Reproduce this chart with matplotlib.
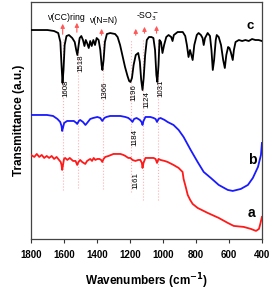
import matplotlib
matplotlib.use("Agg")
import matplotlib.pyplot as plt

plt.rcParams['font.family'] = ['Liberation Sans', 'DejaVu Sans']

# ---- data ----
wn_c = [1800, 1700, 1660, 1635, 1622, 1615, 1609, 1603, 1596, 1585, 1570, 1550, 1535, 1526, 1519,
        1512, 1505, 1495, 1485, 1476, 1468, 1460, 1450, 1441, 1432, 1422, 1412, 1402, 1390, 1380,
        1372, 1367, 1360, 1352, 1340, 1320, 1290, 1275, 1260, 1245, 1230, 1215, 1205, 1197, 1188,
        1178, 1165, 1150, 1140, 1132, 1124, 1117, 1108, 1098, 1085, 1070, 1058, 1048, 1040, 1034,
        1027, 1021, 1012, 1003, 993, 980, 966, 950, 942, 934, 911, 880, 865, 855, 845, 836, 828,
        820, 810, 795, 784, 770, 760, 753, 745, 729, 715, 706, 698, 690, 680, 674, 662, 648, 635,
        625, 616, 605, 597, 589, 577, 570, 560, 540, 520, 500, 480, 460, 440, 420, 400]
t_c = [209, 209, 208, 206, 197, 174, 156, 169, 194, 203, 204, 201, 197, 189, 184,
       193, 201, 203, 199, 193, 199, 196, 191, 198, 193, 199, 194, 201, 199, 189,
       174, 169, 179, 197, 205, 206, 205, 202, 194, 183, 172, 163, 158, 157, 161,
       174, 184, 186, 177, 159, 149, 161, 184, 199, 202, 202, 201, 189, 164, 157,
       174, 199, 197, 186, 194, 202, 204, 202, 198, 204, 207, 207, 203, 194, 182, 189, 184,
       179, 194, 204, 206, 204, 201, 194, 201, 206, 203, 189, 169, 179, 199, 204, 202, 194, 179,
       171, 184, 192, 191, 187, 179, 189, 197, 199, 198, 199, 198, 200, 199, 199, 198]

wn_b = [1800, 1703, 1666, 1640, 1623, 1615, 1611, 1605, 1599, 1581, 1563, 1540, 1525, 1520, 1510,
        1502, 1485, 1470, 1460, 1441, 1423, 1398, 1380, 1368, 1355, 1343, 1320, 1290, 1258, 1228,
        1210, 1195, 1185, 1175, 1160, 1140, 1130, 1124, 1118, 1106, 1076, 1057, 1045, 1036, 1027,
        1015, 990, 972, 936, 905, 875, 832, 790, 753, 710, 662, 607, 577, 528, 485, 455, 424, 406, 400]
t_b = [124, 124, 123, 120, 117, 113, 108, 112, 116, 118, 118, 118, 116, 115, 118,
       119, 117, 114, 116, 120, 121, 122, 121, 118, 121, 122, 123, 123, 123, 122,
       121, 119, 117, 120, 121, 119, 117, 114, 118, 122, 122, 121, 120, 117, 120,
       121, 119, 117, 114, 109, 102, 89, 77, 67, 61, 54, 49, 48, 50, 54, 61, 72, 84, 96]

wn_a = [1800, 1780, 1765, 1750, 1735, 1720, 1705, 1690, 1675, 1660, 1645, 1630, 1620, 1615, 1611,
        1606, 1600, 1593, 1580, 1565, 1545, 1530, 1520, 1512, 1502, 1490, 1471, 1460, 1441, 1430,
        1420, 1410, 1398, 1385, 1375, 1368, 1360, 1350, 1330, 1300, 1280, 1258, 1240, 1228, 1210,
        1197, 1185, 1167, 1150, 1137, 1128, 1124, 1118, 1106, 1076, 1057, 1045, 1036, 1027, 1015,
        990, 972, 936, 905, 881, 875, 862, 850, 835, 820, 790, 729, 662, 607, 571, 510, 467, 436,
        418, 410, 400]
t_a = [84, 82, 85, 82, 84, 81, 83, 81, 83, 80, 82, 79, 77, 74, 69,
       74, 80, 81, 79, 81, 78, 78, 74, 77, 79, 77, 75, 78, 80, 78,
       81, 79, 80, 80, 79, 77, 80, 82, 83, 85, 85, 85, 84, 83, 81,
       81, 79, 78, 79, 79, 76, 71, 76, 81, 81, 81, 80, 76, 80, 79,
       78, 77, 74, 71, 67, 60, 52, 44, 39, 35, 31, 26, 21, 16, 13, 12, 10, 8,
       10, 15, 22]

peak_wn = [1608, 1518, 1366, 1196, 1124, 1031]
peak_labels_c = ['1608', '1518', '1366', '1196', '1124', '1031']
extra_labels = ['1184', '1161']
arrow_wn = [1608, 1522, 1372, 1165, 1112, 1039]
xticks = [1800, 1600, 1400, 1200, 1000, 800, 600, 400]

# ---- figure ----
fig = plt.figure(figsize=(2.72, 2.91), dpi=100)
ax = fig.add_axes([0.114, 0.179, 0.849, 0.814])

pink = '#ffb0b0'
arrow_col = '#ff5a5a'

# dotted guide lines
line_bot = [49, 51, 50, 47, 39, 39]
for w, lb in zip(peak_wn, line_bot):
    ax.plot([w, w], [lb, 200], color=pink, lw=0.8, ls=':', zorder=1)

ax.plot(wn_c, t_c, color='black', lw=1.3, zorder=3)
ax.plot(wn_b, t_b, color='#1a1aff', lw=1.3, zorder=3)
ax.plot(wn_a, t_a, color='#ff1a1a', lw=1.3, zorder=3)

# arrows
arrow_tail = [202, 204, 201, 201, 203, 203]
arrow_head = [218, 219, 213, 213, 215, 216]
for w, t0, t1 in zip(arrow_wn, arrow_tail, arrow_head):
    ax.annotate('', xy=(w, t1), xytext=(w, t0),
                arrowprops=dict(arrowstyle='-|>', color=arrow_col, lw=0.8,
                                mutation_scale=6), zorder=4)

# peak labels
lab_pos_c = [(1587, 151), (1496, 176), (1350, 149), (1179, 146), (1100, 139), (1015, 151)]
for txt, (x, y) in zip(peak_labels_c, lab_pos_c):
    ax.text(x, y, txt, rotation=90, fontsize=5.7, ha='center', va='center')
lab_pos_e = [(1173, 102), (1167, 58)]
for txt, (x, y) in zip(extra_labels, lab_pos_e):
    ax.text(x, y, txt, rotation=90, fontsize=5.7, ha='center', va='center')

# group annotations
ax.text(1587, 222, 'ν(CC)ring', fontsize=6.3, ha='center', va='center')
ax.text(1362, 219, 'ν(N=N)', fontsize=6.3, ha='center', va='center')
ax.text(1094, 222, '-SO$_3^-$', fontsize=6.3, ha='center', va='center')

# curve letters
ax.text(470, 213, 'c', fontsize=9.5, fontweight='bold', ha='center', va='center')
ax.text(461, 79, 'b', fontsize=10, fontweight='bold', ha='center', va='center')
ax.text(461, 26, 'a', fontsize=10, fontweight='bold', ha='center', va='center')

ax.set_xlim(1800, 400)
ax.set_ylim(0, 237)
ax.set_xticks(xticks)
ax.set_xticklabels([str(t) for t in xticks], fontsize=7, fontweight='bold')
ax.set_yticks([])
ax.tick_params(axis='x', direction='out', length=3, width=0.8, pad=5, colors='#333333', labelcolor='black')
for s in ax.spines.values():
    s.set_linewidth(0.9)
    s.set_color('#444444')

ax.set_xlabel('Wavenumbers (cm$^{\\mathbf{-1}}$)', fontsize=8.5, fontweight='bold', labelpad=8)
ax.set_ylabel('Transmittance (a.u.)', fontsize=8.5, fontweight='bold', labelpad=4)

fig.savefig('out.png', dpi=100)
